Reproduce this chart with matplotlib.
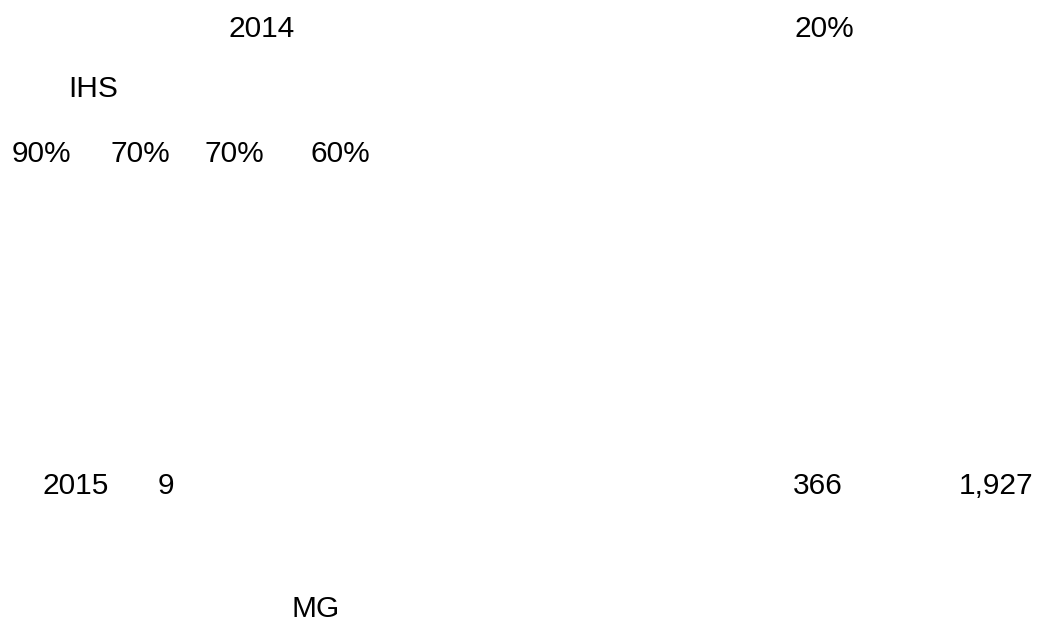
import matplotlib
matplotlib.use('Agg')
import matplotlib.pyplot as plt

# Text fragments that appear on the page (the CJK text around them did not render)
years = ['2014', '2015']
shares = ['20%', '90%', '70%', '70%', '60%']
sources = ['IHS', 'MG']
counts = ['9', '366', '1,927']

# Layout: left edge x and baseline y in pixels for each fragment
W, H = 1047, 630
year_pos = [(229, 37), (42, 494)]
share_pos = [(794, 37), (12, 162), (110, 162), (205, 162), (310, 162)]
source_pos = [(68, 97), (292, 617)]
count_pos = [(158, 494), (793, 494), (959, 494)]

plt.rcParams['font.family'] = ['Liberation Sans', 'DejaVu Sans']

fig = plt.figure(figsize=(W / 100, H / 100), dpi=100)
fig.patch.set_facecolor('white')

for labels, pos in [(years, year_pos), (shares, share_pos),
                    (sources, source_pos), (counts, count_pos)]:
    for label, (x, y) in zip(labels, pos):
        fig.text(x / W, 1 - y / H, label, fontsize=21.5, color='black',
                 ha='left', va='baseline')

fig.savefig('out.png', dpi=100, facecolor='white')
